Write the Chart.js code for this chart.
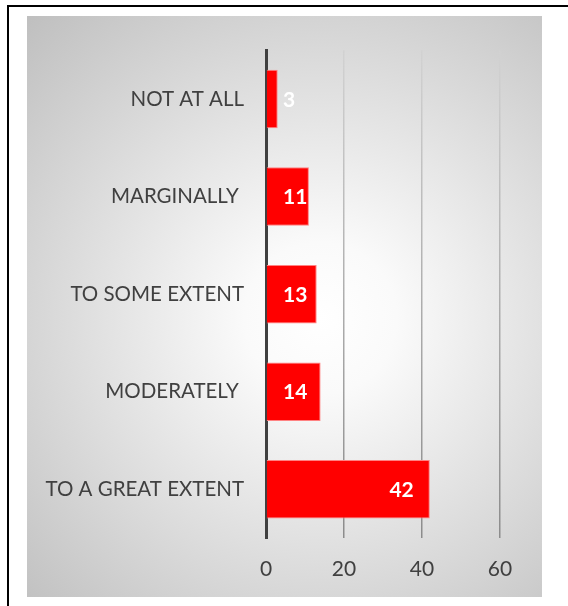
<!DOCTYPE html>
<html>
<head>
<meta charset="utf-8">
<script src="https://cdn.jsdelivr.net/npm/chart.js@4"></script>
<style>
  html, body { margin: 0; padding: 0; background: #fff; width: 568px; height: 606px; overflow: hidden; }
  #frame { position: absolute; left: 7px; top: 5px; width: 640px; height: 700px; border: 2px solid #000; box-sizing: border-box; }
  #panel { position: absolute; left: 27px; top: 16px; width: 515px; height: 581px;
    background: radial-gradient(circle farthest-corner at 57% 52%, #ffffff 0%, #fafafa 18%, #bfbfbf 100%); }
  canvas { display: block; }
</style>
</head>
<body>
<div id="frame"></div>
<div id="panel"><canvas id="c" width="515" height="581"></canvas></div>
<script>
const categories = ["NOT AT ALL", "MARGINALLY ", "TO SOME EXTENT", "MODERATELY ", "TO A GREAT EXTENT"];
const values = [3, 11, 13, 14, 42];
const xTicks = [0, 20, 40, 60];

const FONT = "Lato, 'Open Sans', sans-serif";

const labelPlugin = {
  id: 'barLabels',
  afterDatasetsDraw(chart) {
    const ctx = chart.ctx;
    const meta = chart.getDatasetMeta(0);
    const xs = chart.scales.x;
    const base = xs.getPixelForValue(0);
    ctx.save();
    ctx.font = "bold 21px " + FONT;
    ctx.fillStyle = '#ffffff';
    ctx.textAlign = 'right';
    ctx.textBaseline = 'middle';
    meta.data.forEach((bar, i) => {
      const txt = String(values[i]);
      const w = ctx.measureText(txt).width;
      const right = Math.max(bar.x - 16, base + 17 + w);
      ctx.fillText(txt, right, bar.y + 1);
    });
    ctx.restore();
  }
};

new Chart(document.getElementById('c'), {
  type: 'bar',
  data: {
    labels: categories,
    datasets: [{
      data: values,
      backgroundColor: '#ff0000',
      borderColor: 'rgba(255,130,130,1)',
      borderWidth: 1,
      borderSkipped: 'start',
      categoryPercentage: 1,
      barPercentage: 0.6
    }]
  },
  options: {
    indexAxis: 'y',
    responsive: false,
    animation: false,
    layout: { padding: { left: 0, right: 42, top: 30, bottom: 0 } },
    plugins: { legend: { display: false }, tooltip: { enabled: false } },
    scales: {
      x: {
        min: 0, max: 60,
        afterBuildTicks(s) { s.ticks = xTicks.map(v => ({ value: v })); },
        afterFit(s) { s.height = 59; },
        grid: {
          drawTicks: false,
          lineWidth: 1.5,
          color(c) {
            const ch = c.chart; const a = ch.chartArea;
            if (!a) return '#a6a6a6';
            const g = ch.ctx.createLinearGradient(0, a.top, 0, a.bottom);
            g.addColorStop(0, '#d2d2d2');
            g.addColorStop(1, '#8c8c8c');
            return g;
          }
        },
        border: { display: false },
        ticks: { padding: 19, color: '#404040', font: { family: FONT, size: 21 } }
      },
      y: {
        afterFit(s) { s.width = 239; },
        grid: { display: false, drawTicks: false },
        border: { display: true, color: '#404040', width: 3 },
        ticks: { padding: 22, color: '#404040', font: { family: FONT, size: 20.5 } }
      }
    }
  },
  plugins: [labelPlugin]
});
</script>
</body>
</html>
